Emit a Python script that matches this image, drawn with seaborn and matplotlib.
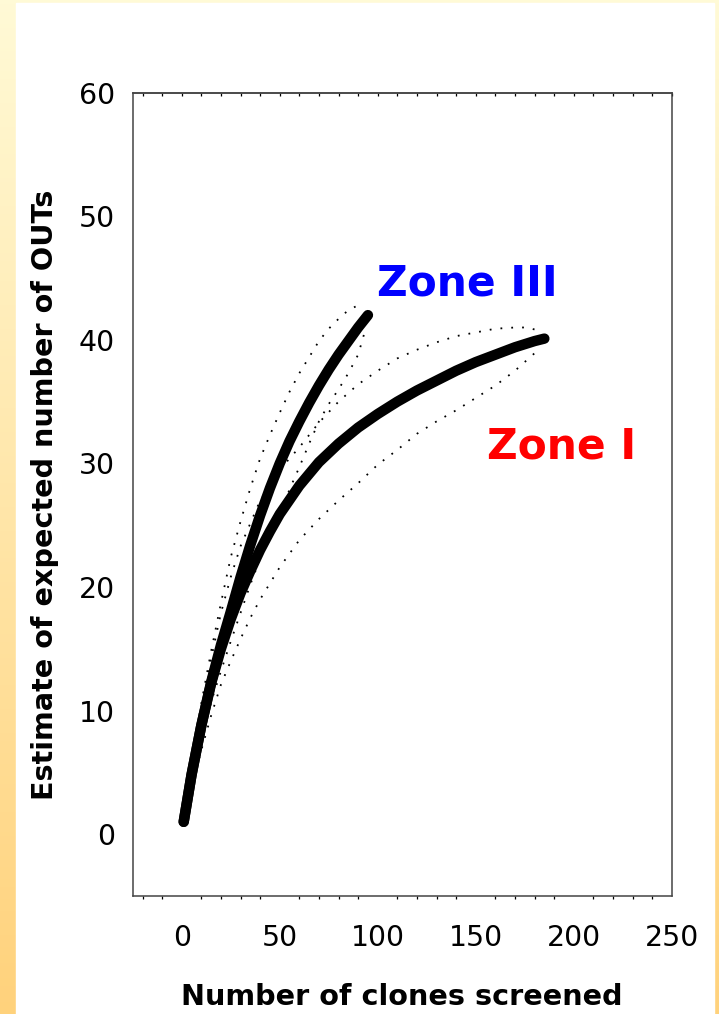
import matplotlib.pyplot as plt
import matplotlib.ticker as mticker
from matplotlib.colors import LinearSegmentedColormap
from matplotlib.patches import Rectangle
import numpy as np
import seaborn as sns

# Zone III rarefaction curve and its dotted bounds
zone3_x = [1, 5, 10, 15, 20, 25, 30, 35, 40, 45, 50, 55, 60, 65, 70, 75, 80, 85, 90, 95]
zone3_mean = [1.0, 4.8, 8.8, 12.3, 15.3, 18.0, 20.8, 23.4, 25.8, 28.0, 30.0, 31.8,
              33.4, 34.9, 36.3, 37.6, 38.8, 39.9, 41.0, 42.0]
zone3_up_x = [1, 5, 10, 15, 20, 25, 30, 35, 40, 45, 50, 55, 60, 65, 70, 75, 80, 85, 90, 92]
zone3_up = [1.0, 5.4, 10.6, 14.8, 18.7, 22.4, 25.3, 28.0, 30.4, 32.3, 34.1, 35.8,
            37.3, 38.6, 39.9, 40.9, 41.7, 42.4, 42.8, 42.9]
zone3_lo_x = [1, 5, 10, 15, 20, 25, 30, 35, 40, 45, 50, 55, 60, 65, 70, 75, 80, 85, 90, 94]
zone3_lo = [1.0, 4.2, 7.7, 10.7, 13.2, 15.6, 17.9, 20.2, 22.3, 24.2, 25.8, 27.9,
            29.7, 31.6, 33.4, 34.8, 36.0, 37.3, 38.8, 41.0]

# Zone I rarefaction curve and its dotted bounds
zone1_x = [1, 5, 10, 15, 20, 25, 30, 35, 40, 45, 50, 60, 70, 80, 90, 100, 110, 120,
           130, 140, 150, 160, 170, 180, 185]
zone1_mean = [1.0, 4.8, 8.8, 12.2, 15.0, 17.4, 19.5, 21.3, 23.0, 24.5, 25.9, 28.2, 30.1,
              31.6, 32.9, 34.0, 35.0, 35.9, 36.7, 37.5, 38.2, 38.8, 39.4, 39.9, 40.1]
zone1_up_x = [1, 5, 10, 15, 20, 25, 30, 40, 50, 60, 70, 80, 90, 100, 110, 120, 130,
              140, 150, 160, 170, 176, 181]
zone1_up = [1.0, 5.2, 10.1, 14.2, 17.9, 20.8, 23.3, 27.0, 29.5, 31.3, 33.3, 35.0, 36.4,
            37.5, 38.5, 39.2, 39.8, 40.3, 40.6, 40.9, 41.0, 41.0, 40.8]
zone1_lo_x = [1, 5, 10, 15, 20, 25, 30, 35, 40, 50, 60, 70, 80, 90, 100, 110, 120, 130,
              140, 150, 160, 170, 182]
zone1_lo = [1.0, 3.8, 6.8, 9.6, 12.1, 14.0, 15.8, 17.5, 19.0, 21.6, 23.8, 25.5, 27.0,
            28.4, 29.9, 31.1, 32.4, 33.4, 34.3, 35.3, 36.3, 37.5, 39.2]

sns.set_style("white")
plt.rcParams["font.family"] = ["DejaVu Sans"]
plt.rcParams["text.color"] = "black"
plt.rcParams["axes.labelcolor"] = "black"
plt.rcParams["xtick.color"] = "black"
plt.rcParams["ytick.color"] = "black"

fig = plt.figure(figsize=(7.19, 10.14), dpi=100)

# slide background: cream-to-orange gradient frame behind a white panel
bg = fig.add_axes([0, 0, 1, 1], zorder=-10)
grad = np.linspace(0, 1, 256).reshape(-1, 1)
cmap = LinearSegmentedColormap.from_list("slide", ["#FFFAD6", "#FFD27C"])
bg.imshow(grad, aspect="auto", cmap=cmap, extent=[0, 1, 0, 1])
bg.add_patch(Rectangle((16 / 719, 0), (714 - 16) / 719, 1 - 3 / 1014, color="white"))
bg.set_xlim(0, 1)
bg.set_ylim(0, 1)
bg.axis("off")

ax = fig.add_axes([0.1846, 0.1164, 0.7497, 0.7922])
ax.set_facecolor("white")

thick = dict(color="black", linewidth=7.5, solid_capstyle="round",
             solid_joinstyle="round", estimator=None, sort=False)
dotted = dict(color="black", linewidth=1.3, linestyle=(0, (1, 5)),
              dash_capstyle="butt", estimator=None, sort=False)

for xs, ys in [(zone3_up_x, zone3_up), (zone3_lo_x, zone3_lo),
               (zone1_up_x, zone1_up), (zone1_lo_x, zone1_lo)]:
    sns.lineplot(x=xs, y=ys, ax=ax, **dotted)
sns.lineplot(x=zone1_x, y=zone1_mean, ax=ax, **thick)
sns.lineplot(x=zone3_x, y=zone3_mean, ax=ax, **thick)

ax.text(99.5, 43.6, "Zone III", color="#0000FF", fontsize=30.5, fontweight="bold",
        va="baseline", ha="left")
ax.text(155.6, 30.4, "Zone I", color="#FF0000", fontsize=30.5, fontweight="bold",
        va="baseline", ha="left")

ax.set_xlim(-25, 250)
ax.set_ylim(-5, 60)
ax.xaxis.set_major_locator(mticker.MultipleLocator(50))
ax.xaxis.set_minor_locator(mticker.MultipleLocator(10))
ax.yaxis.set_major_locator(mticker.MultipleLocator(10))

for sp in ax.spines.values():
    sp.set_visible(True)
    sp.set_color("#444444")
    sp.set_linewidth(1.1)

ax.tick_params(axis="x", which="major", direction="in", length=9.5, width=1.1,
               pad=20, labelsize=20.4, colors="black", top=False)
ax.tick_params(axis="x", which="minor", direction="out", length=2.5, width=0.9,
               bottom=True, top=False)
ax.tick_params(axis="y", which="major", direction="in", length=10, width=1.1,
               pad=13, labelsize=20.4, colors="black", right=False)

top = ax.secondary_xaxis("top")
top.xaxis.set_major_locator(mticker.MultipleLocator(10))
top.tick_params(direction="in", length=2.5, width=0.9, labeltop=False)
top.spines["top"].set_color("#444444")
top.spines["top"].set_linewidth(1.1)

ax.set_xlabel("Number of clones screened", fontsize=20.6, fontweight="bold",
              color="black")
ax.set_ylabel("Estimate of expected number of OUTs", fontsize=20.6, fontweight="bold",
              color="black")
ax.xaxis.set_label_coords(0.5, -0.108)
ax.yaxis.set_label_coords(-0.137, 0.5)

fig.savefig("out.png", dpi=100)
